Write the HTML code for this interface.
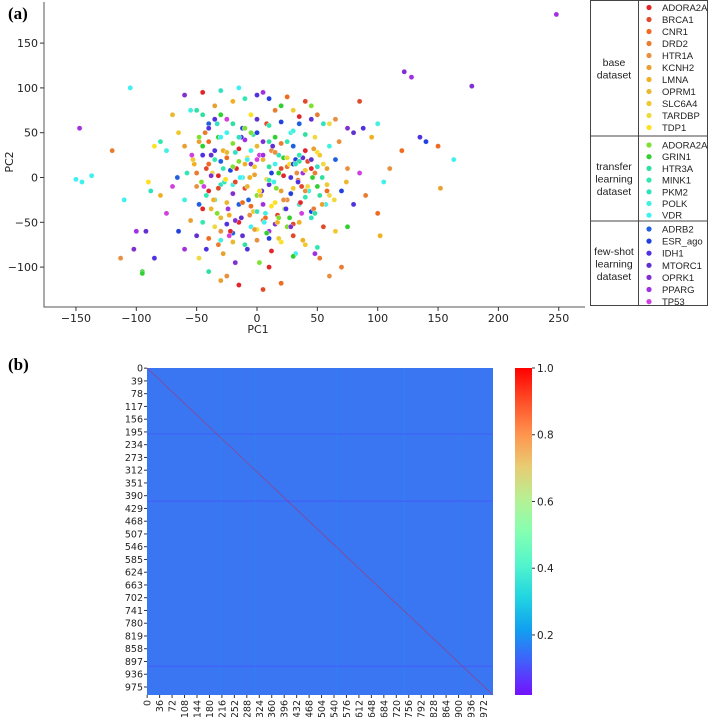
<!DOCTYPE html>
<html><head><meta charset="utf-8"><style>
body{margin:0;background:#fff;width:708px;height:717px;overflow:hidden;font-family:"Liberation Sans",sans-serif}
svg text{font-family:"DejaVu Sans","Liberation Sans",sans-serif}
</style></head><body>
<svg id="fig" width="708" height="717" viewBox="0 0 708 717" xmlns="http://www.w3.org/2000/svg">
<text x="8" y="19" font-weight="bold" font-size="17" style="font-family:'Liberation Serif',serif">(a)</text>
<text x="8" y="370" font-weight="bold" font-size="17" style="font-family:'Liberation Serif',serif">(b)</text>
<g id="scatter"></g>
<g id="legend"></g>
<g id="heat"></g>
</svg>
<script>
const classNames=["ADORA2A","BRCA1","CNR1","DRD2","HTR1A","KCNH2","LMNA","OPRM1","SLC6A4","TARDBP","TDP1","ADORA2A","GRIN1","HTR3A","MINK1","PKM2","POLK","VDR","ADRB2","ESR_ago","IDH1","MTORC1","OPRK1","PPARG","TP53"];
const classColors=["#e0262a","#e04a2a","#f06a20","#e87c30","#e89040","#e8a030","#f0b020","#e8b830","#f0c830","#f0d840","#ffe020","#80e030","#30d030","#30e0a0","#30e8b0","#30e0c0","#40f0e0","#40f0f0","#2060e0","#2040e0","#5030e0","#6030d0","#8030d0","#a030e0","#d040e0"];
const groupNames=[["base","dataset"],["transfer","learning","dataset"],["few-shot","learning","dataset"]];
const groupSizes=[11,7,7];
const xTicks=[-150,-100,-50,0,50,100,150,200,250];
const yTicks=[-100,-50,0,50,100,150];
const pcX=[-60,-45,-30,-20,-10,0,10,20,30,40,50,60,-55,-35,-15,5,25,45,65,80,
-70,-50,-40,-25,-5,15,35,55,75,-65,-48,-32,-12,8,28,48,68,88,-80,95,
-40,-30,-20,-10,0,10,20,30,40,50,-38,-28,-18,-8,2,12,22,32,42,52,
-75,-60,-45,-35,-25,-15,-5,5,15,25,35,45,55,65,75,85,-85,-52,18,38,
-42,-22,-2,18,38,58,-58,-32,-12,8,28,48,-46,-26,-6,14,34,54,74,-66,
-90,-70,-50,-30,-10,10,30,50,70,90,-80,-60,-40,-20,0,20,40,60,80,100,
-35,-25,-15,-5,5,15,25,35,-45,45,-33,-23,-13,-3,7,17,27,37,47,57,
-55,-45,-35,-25,-15,-5,5,15,25,35,45,55,-65,65,-75,75,-30,-20,0,10,
-50,-40,-30,-20,-10,0,10,20,30,-60,40,50,-28,-8,12,32,-48,52,-18,2,
-110,-100,-95,-85,-88,105,110,120,100,-102,60,70,-30,-15,5,20,-40,10,-25,30,
248,-147,122,128,178,-150,-145,-137,-105,163,150,152,140,-113,-95,135,85,-120,-92,102,
-43,-37,-27,-17,-7,3,13,23,33,43,-53,-3,7,-13,17,27,-23,37,-33,47,
-45,-35,-25,-15,-5,5,15,25,35,45,-40,-30,-20,-10,0,10,20,30,40,50,
-50,-38,-26,-14,-2,10,22,34,46,58,-44,-32,-20,-8,4,16,28,40,52,64,
-48,-36,-24,-12,0,12,24,36,48,-30,-18,-6,6,18,30,-42,42,-54,54,0,
-20,-10,0,10,20,-30,30,-40,40,-15,-5,5,15,25,-25,-35,35,-45,45,60,
-22,-12,-2,8,18,28,-32,-42,38,48,-28,-18,-8,2,12,22,32,-38,-48,58];
const pcY=[92,95,97,85,88,92,88,80,75,85,70,60,75,80,100,95,90,80,65,50,
70,75,60,65,70,75,68,60,55,50,40,45,55,60,50,45,40,55,40,45,
40,45,38,42,35,40,38,35,30,28,25,30,28,22,25,30,22,20,18,25,
30,35,25,20,22,18,15,20,15,12,18,10,15,20,10,5,35,15,25,22,
10,8,12,5,5,10,5,2,0,-2,0,5,-5,-2,0,-5,-3,0,-5,0,
-5,-10,-10,-8,-12,-8,-12,-10,-15,-20,-20,-25,-15,-18,-20,-15,-22,-20,-30,-40,
-25,-28,-30,-32,-30,-28,-25,-30,-35,-38,-40,-42,-45,-38,-40,-42,-45,-40,-35,-30,
-48,-50,-55,-52,-50,-55,-48,-52,-55,-50,-45,-55,-60,-60,-40,-55,-60,-62,-58,-60,
-65,-68,-70,-72,-75,-70,-68,-72,-65,-80,-75,-78,-85,-80,-82,-85,-90,-90,-95,-95,
-25,-60,-105,-90,-15,-5,10,30,60,-80,-110,-100,-115,-120,-125,-118,-105,-100,-110,-88,
182,55,118,112,102,-2,-5,2,100,20,35,-12,40,-90,-107,45,85,30,-60,-65,
50,5,-5,10,-25,-20,35,-35,5,-15,20,48,-45,45,-50,15,-65,-10,60,32,
35,30,28,32,30,25,28,22,25,20,15,18,12,15,20,12,10,15,8,12,
5,2,-2,0,3,-3,2,-5,0,-8,-10,-12,-8,-10,-15,-12,-18,-15,-20,-25,
-30,-25,-35,-28,-38,-32,-35,-28,-40,-45,-48,-42,-50,-45,-52,-20,-10,25,-30,50,
60,55,65,58,62,70,52,55,48,45,50,40,45,40,50,65,60,70,65,35,
-60,-65,-58,-62,-68,-55,-75,-80,-70,-85,10,-5,20,-15,5,-25,15,-35,45,-15];
const pcClass=[22,0,15,6,14,20,19,12,8,1,3,9,16,5,17,23,2,11,4,21,
7,13,18,24,10,3,0,15,22,8,5,12,19,1,16,9,4,20,14,6,
2,17,11,23,7,13,3,18,0,10,21,6,15,9,24,4,12,19,1,8,
16,5,20,14,2,11,22,7,17,3,13,0,9,18,4,24,10,6,15,21,
1,19,8,12,23,5,14,0,16,9,20,3,11,22,6,17,2,13,7,18,
10,24,4,15,1,21,8,12,19,3,6,16,0,22,11,5,14,9,20,2,
13,7,18,2,23,10,4,15,0,19,11,6,21,8,16,1,12,24,3,17,
5,14,9,20,0,17,3,22,11,6,15,1,19,8,24,12,4,18,10,23,
21,2,16,7,13,4,19,10,1,23,8,14,5,20,0,17,9,3,22,11,
17,23,12,20,15,17,4,2,16,22,4,3,5,0,1,2,13,0,4,12,
23,23,22,23,22,17,17,17,17,17,2,5,19,4,12,20,1,3,21,6,
3,9,14,0,18,7,21,11,4,16,8,13,2,20,6,10,24,1,15,5,
12,20,7,0,16,23,4,9,14,21,2,18,11,6,24,13,1,19,8,15,
3,22,10,17,5,14,0,20,12,8,24,1,16,7,21,11,19,4,13,9,
18,6,23,2,15,10,20,0,13,7,22,4,17,11,1,14,9,24,5,19,
13,11,21,14,19,12,16,20,13,15,11,22,12,14,17,20,18,13,21,16,
0,21,5,12,8,22,3,20,6,23,14,1,17,10,19,4,15,7,11,2];
const rowTicks=[0,39,78,117,156,195,234,273,312,351,390,429,468,507,546,585,624,663,702,741,780,819,858,897,936,975];
const colTicks=[0,36,72,108,144,180,216,252,288,324,360,396,432,468,504,540,576,612,648,684,720,756,792,828,864,900,936,972];
const cbTicks=[0.2,0.4,0.6,0.8,1.0];
const baseSim=0.15;
const stripeColIdx=[210,310,545,740,905];
const stripeColVal=[0.17,0.17,0.17,0.17,0.16];
const stripeRowIdx=[200,405,910];
const stripeRowVal=[0.12,0.11,0.11];

const NS="http://www.w3.org/2000/svg";
function mk(p,t,a){const e=document.createElementNS(NS,t);for(const k in a)e.setAttribute(k,a[k]);p.appendChild(e);return e;}
function rainbow(v){const r=Math.min(1,Math.abs(2*v-0.5)),g=Math.sin(Math.PI*v),b=Math.cos(Math.PI*v/2);
return `rgb(${Math.round(r*255)},${Math.round(g*255)},${Math.round(Math.max(0,b)*255)})`;}

// scatter
const sc=document.getElementById('scatter');
const L=44,R=585,T=2,B=307;
const sx=v=>257+v*1.207, sy=v=>177.5-v*0.896;
const clip=mk(sc,'clipPath',{id:'cp'});mk(clip,'rect',{x:L,y:T,width:R-L,height:B-T});
const pg=mk(sc,'g',{'clip-path':'url(#cp)'});
for(let i=0;i<pcX.length;i++){
 const c=mk(pg,'circle',{cx:sx(pcX[i]),cy:sy(pcY[i]),r:2.6,fill:classColors[pcClass[i]],stroke:'#fff','stroke-width':0.4});
 
 
}
const ax=mk(sc,'path',{d:`M${L},${T}V${B}H${R}`,fill:'none',stroke:'#555','stroke-width':1});

xTicks.forEach(t=>{const x=sx(t);mk(sc,'line',{x1:x,x2:x,y1:B,y2:B+4,stroke:'#333'});
 const tx=mk(sc,'text',{x:x,y:B+15,'text-anchor':'middle','font-size':11,fill:'#222'});tx.textContent=(t<0?'\u2212'+(-t):t);
 });
yTicks.forEach(t=>{const y=sy(t);mk(sc,'line',{x1:L-4,x2:L,y1:y,y2:y,stroke:'#333'});
 const tx=mk(sc,'text',{x:L-6,y:y+4,'text-anchor':'end','font-size':11,fill:'#222'});tx.textContent=(t<0?'\u2212'+(-t):t);
 });
const xl=mk(sc,'text',{x:258,y:333,'text-anchor':'middle','font-size':11,fill:'#222'});xl.textContent='PC1';

const yl=mk(sc,'text',{x:0,y:0,'text-anchor':'middle','font-size':11,fill:'#222',transform:'translate(13,162) rotate(-90)'});yl.textContent='PC2';


// legend
const lg=document.getElementById('legend');
mk(lg,'rect',{x:590.5,y:0.5,width:117,height:305,fill:'#fff',stroke:'#444','stroke-width':1});
mk(lg,'line',{x1:638.5,x2:638.5,y1:0,y2:306,stroke:'#444'});
const groupStarts=[7.5,145,229],groupSteps=[12,11.7,12.1],groupDiv=[136,221];
groupDiv.forEach(y=>mk(lg,'line',{x1:590,x2:708,y1:y,y2:y,stroke:'#444'}));
const groupTop=[0,136,221],groupBot=[136,221,306];
let idx=0;
groupSizes.forEach((n,g)=>{
 const mid=(groupTop[g]+groupBot[g])/2, lines=groupNames[g];
 lines.forEach((w,k)=>{const t=mk(lg,'text',{x:614,y:mid+(k-(lines.length-1)/2)*12.5+4,'text-anchor':'middle','font-size':10.5,fill:'#222',style:"font-family:'Liberation Sans',sans-serif"});t.textContent=w;
  });
 for(let j=0;j<n;j++){const y=groupStarts[g]+j*groupSteps[g];
  const e=mk(lg,'g',{});
  
  
  mk(e,'circle',{cx:649,cy:y,r:2.6,fill:classColors[idx]});
  const t=mk(e,'text',{x:662,y:y+3.5,'font-size':9.5,fill:'#222',style:"font-family:'Liberation Sans',sans-serif"});t.textContent=classNames[idx];idx++;}
});

// heatmap
const hm=document.getElementById('heat');
const HL=147,HR=493,HT=368,HB=695,N=1000;
const hx=i=>HL+i/N*(HR-HL), hy=i=>HT+i/N*(HB-HT);
const bg=mk(hm,'rect',{x:HL,y:HT,width:HR-HL,height:HB-HT,fill:'#3a76f2'});

stripeColIdx.forEach((c,k)=>{const r=mk(hm,'rect',{x:hx(c),y:HT,width:2,height:HB-HT,fill:rainbow(stripeColVal[k]),opacity:0.5});
 });
stripeRowIdx.forEach((c,k)=>{const r=mk(hm,'rect',{x:HL,y:hy(c),width:HR-HL,height:1.5,fill:rainbow(stripeRowVal[k]),opacity:0.6});
 });
const dg=mk(hm,'line',{x1:hx(0),y1:hy(0),x2:hx(N),y2:hy(N),stroke:rainbow(1),'stroke-width':0.7,opacity:0.45});

rowTicks.forEach(t=>{const y=hy(t+0.5);mk(hm,'line',{x1:HL-3,x2:HL,y1:y,y2:y,stroke:'#333'});
 const tx=mk(hm,'text',{x:HL-4,y:y+3.5,'text-anchor':'end','font-size':9.5,fill:'#222'});tx.textContent=t;
 });
colTicks.forEach(t=>{const x=hx(t+0.5);mk(hm,'line',{x1:x,x2:x,y1:HB,y2:HB+3,stroke:'#333'});
 const tx=mk(hm,'text',{x:0,y:0,'text-anchor':'end','font-size':9.5,fill:'#222',transform:`translate(${x+3.5},${HB+5}) rotate(-90)`});tx.textContent=t;
 });
// colorbar
const CL=515,CR=532,VMIN=0.02,cby=v=>HB-(v-VMIN)*(HB-HT)/(1-VMIN);
const defs=mk(hm,'defs',{});const gr=mk(defs,'linearGradient',{id:'cbg',x1:0,y1:1,x2:0,y2:0});
for(let k=0;k<=10;k++){mk(gr,'stop',{offset:k/10,'stop-color':rainbow(VMIN+k/10*(1-VMIN))});}
const cb=mk(hm,'rect',{x:CL,y:HT,width:CR-CL,height:HB-HT,fill:'url(#cbg)'});

cbTicks.forEach(t=>{const y=cby(t);mk(hm,'line',{x1:CR,x2:CR+3,y1:y,y2:y,stroke:'#333'});
 const tx=mk(hm,'text',{x:CR+5,y:y+4,'font-size':10.5,fill:'#222'});tx.textContent=t.toFixed(1);
 });
</script>
</body></html>
